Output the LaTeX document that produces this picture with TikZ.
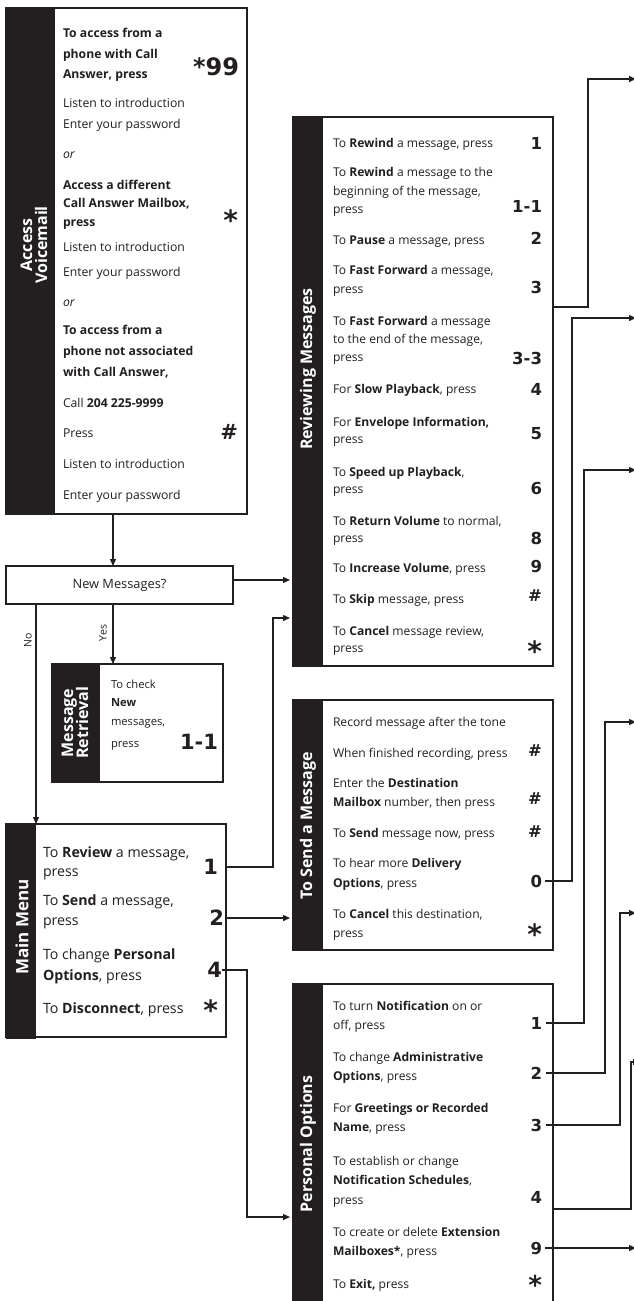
\documentclass[tikz,border=0pt]{standalone}
\usepackage{fontspec}
\setmainfont{Open Sans}
\newfontfamily\keyfont{DejaVu Sans}
\usetikzlibrary{arrows.meta}
\definecolor{ink}{RGB}{35,31,32}
\begin{document}
\begin{tikzpicture}[x=1pt,y=-1pt,
  every node/.style={inner sep=0pt, outer sep=0pt, text=ink},
  frame/.style={draw=ink, line width=1.3pt, fill=white, anchor=north west},
  band/.style={fill=ink, anchor=north west},
  title/.style={text=white, font=\bfseries\fontsize{16}{17}\selectfont, rotate=90, align=center},
  ta/.style={anchor=base west, font=\fontsize{12.2}{14}\selectfont},
  tr/.style={anchor=base west, font=\fontsize{12.1}{14}\selectfont},
  tq/.style={anchor=base west, font=\fontsize{11.2}{13}\selectfont},
  tm/.style={anchor=base west, font=\fontsize{14.2}{16}\selectfont},
  keyS/.style={anchor=east, font=\keyfont\bfseries\fontsize{16.5}{18}\selectfont},
  keyM/.style={anchor=east, font=\keyfont\bfseries\fontsize{21}{22}\selectfont},
  keyAst/.style={anchor=east, yshift=-4pt, font=\keyfont\bfseries\fontsize{28}{28}\selectfont},
  conn/.style={draw=ink, line width=1.3pt},
  arr/.style={conn, -{Triangle[length=7pt,width=6pt]}},
  lab/.style={rotate=90, font=\fontsize{10.5}{12}\selectfont}
]
\fill[white] (0,0) rectangle (633,1301);
\useasboundingbox (0,0) rectangle (633,1301);

% ---------------- Access Voicemail ----------------
\node[frame, minimum width=241pt, minimum height=506pt] (accv) at (6,8) {};
\node[band, minimum width=49pt, minimum height=506pt] (accvb) at (6,8) {};
\node[title] (accvt) at (34,245) {Access\\[-2pt]Voicemail};
\node[ta] (a1) at (63,37) {\textbf{To access from a}};
\node[ta] (a2) at (63,58) {\textbf{phone with Call}};
\node[ta] (a3) at (63,78) {\textbf{Answer, press}};
\node[anchor=east, font=\keyfont\bfseries\fontsize{24}{26}\selectfont] (ak1) at (239,67) {*99};
\node[ta] (a4) at (63,107) {Listen to introduction};
\node[ta] (a5) at (63,128) {Enter your password};
\node[ta] (a6) at (63,158) {\itshape or};
\node[ta] (a7) at (63,189) {\textbf{Access a different}};
\node[ta] (a8) at (63,207) {\textbf{Call Answer Mailbox,}};
\node[ta] (a9) at (63,226) {\textbf{press}};
\node[keyAst] (ak2) at (238,216) {*};
\node[ta] (a10) at (63,251) {Listen to introduction};
\node[ta] (a11) at (63,276) {Enter your password};
\node[ta] (a12) at (63,306) {\itshape or};
\node[ta] (a13) at (63,334) {\textbf{To access from a}};
\node[ta] (a14) at (63,355) {\textbf{phone not associated}};
\node[ta] (a15) at (63,376) {\textbf{with Call Answer,}};
\node[ta] (a16) at (63,407) {Call \textbf{204 225-9999}};
\node[ta] (a17) at (63,437) {Press};
\node[keyM] (ak3) at (238,432) {\#};
\node[ta] (a18) at (63,468) {Listen to introduction};
\node[ta] (a19) at (63,499) {Enter your password};

% ---------------- New Messages ----------------
\node[frame, minimum width=227pt, minimum height=38pt, font=\fontsize{12.8}{15}\selectfont] (newm) at (6,566) {New Messages?};

% ---------------- Message Retrieval ----------------
\node[frame, minimum width=171pt, minimum height=118pt] (retr) at (52,664) {};
\node[band, minimum width=48pt, minimum height=118pt] (retrb) at (52,664) {};
\node[title] (retrt) at (75,723) {Message\\[-2pt]Retrieval};
\node[tq] (q1) at (111,688) {To check};
\node[tq] (q2) at (111,706) {\textbf{New}};
\node[tq] (q3) at (111,725) {messages,};
\node[tq] (q4) at (111,747) {press};
\node[keyM] (qk1) at (218,742) {1-1};

% ---------------- Main Menu ----------------
\node[frame, minimum width=220pt, minimum height=213pt] (mainm) at (6,824) {};
\node[band, minimum width=30pt, minimum height=215pt] (mainb) at (6,824) {};
\node[title, font=\bfseries\fontsize{17}{18}\selectfont] (maint) at (22,927) {Main Menu};
\node[tm] (m1) at (43,857) {To \textbf{Review} a message,};
\node[tm] (m2) at (43,876) {press};
\node[keyM] (mk1) at (218,867) {1};
\node[tm] (m3) at (43,905) {To \textbf{Send} a message,};
\node[tm] (m4) at (43,925) {press};
\node[keyM] (mk2) at (224,918) {2};
\node[tm] (m5) at (43,959) {To change \textbf{Personal}};
\node[tm] (m6) at (43,980) {\textbf{Options}, press};
\node[keyM] (mk4) at (222,970) {4};
\node[tm] (m7) at (43,1013) {To \textbf{Disconnect}, press};
\node[keyAst] (mk5) at (218,1006) {*};

% ---------------- Reviewing Messages ----------------
\node[frame, minimum width=260pt, minimum height=549pt] (rev) at (293,117) {};
\node[band, minimum width=30pt, minimum height=549pt] (revb) at (293,117) {};
\node[title] (revt) at (308,369) {Reviewing Messages};
\node[tr] (r1) at (333,147) {To \textbf{Rewind} a message, press};
\node[keyS] (rk1) at (542,143) {1};
\node[tr] (r2) at (333,176) {To \textbf{Rewind} a message to the};
\node[tr] (r3) at (333,195) {beginning of the message,};
\node[tr] (r4) at (333,213) {press};
\node[keyS] (rk2) at (542,206) {1-1};
\node[tr] (r5) at (333,244) {To \textbf{Pause} a message, press};
\node[keyS] (rk3) at (542,238) {2};
\node[tr] (r6) at (333,274) {To \textbf{Fast Forward} a message,};
\node[tr] (r7) at (333,293) {press};
\node[keyS] (rk4) at (542,287) {3};
\node[tr] (r8) at (333,325) {To \textbf{Fast Forward} a message};
\node[tr] (r9) at (333,343) {to the end of the message,};
\node[tr] (r10) at (333,361) {press};
\node[keyS] (rk5) at (542,358) {3-3};
\node[tr] (r11) at (333,393) {For \textbf{Slow Playback}, press};
\node[keyS] (rk6) at (542,389) {4};
\node[tr] (r12) at (333,426) {For \textbf{Envelope Information,}};
\node[tr] (r13) at (333,443) {press};
\node[keyS] (rk7) at (542,434) {5};
\node[tr] (r14) at (333,476) {To \textbf{Speed up Playback},};
\node[tr] (r15) at (333,493) {press};
\node[keyS] (rk8) at (542,488) {6};
\node[tr] (r16) at (333,525) {To \textbf{Return Volume} to normal,};
\node[tr] (r17) at (333,542) {press};
\node[keyS] (rk9) at (542,538) {8};
\node[tr] (r18) at (333,572) {To \textbf{Increase Volume}, press};
\node[keyS] (rk10) at (542,566) {9};
\node[tr] (r19) at (333,603) {To \textbf{Skip} message, press};
\node[keyS] (rk11) at (542,596) {\#};
\node[tr] (r20) at (333,635) {To \textbf{Cancel} message review,};
\node[tr] (r21) at (333,652) {press};
\node[keyAst] (rk12) at (542,647) {*};

% ---------------- To Send a Message ----------------
\node[frame, minimum width=260pt, minimum height=250pt] (snd) at (293,700) {};
\node[band, minimum width=30pt, minimum height=250pt] (sndb) at (293,700) {};
\node[title] (sndt) at (308,826) {To Send a Message};
\node[tr] (s1) at (333,726) {Record message after the tone};
\node[tr] (s2) at (333,757) {When finished recording, press};
\node[keyS] (sk1) at (542,751) {\#};
\node[tr] (s3) at (333,787) {Enter the \textbf{Destination}};
\node[tr] (s4) at (333,806) {\textbf{Mailbox} number, then press};
\node[keyS] (sk2) at (542,799) {\#};
\node[tr] (s5) at (333,837) {To \textbf{Send} message now, press};
\node[keyS] (sk3) at (542,832) {\#};
\node[tr] (s6) at (333,867) {To hear more \textbf{Delivery}};
\node[tr] (s7) at (333,887) {\textbf{Options}, press};
\node[keyS] (sk4) at (542,881) {0};
\node[tr] (s8) at (333,918) {To \textbf{Cancel} this destination,};
\node[tr] (s9) at (333,937) {press};
\node[keyAst] (sk5) at (542,930) {*};

% ---------------- Personal Options ----------------
\node[frame, minimum width=260pt, minimum height=340pt] (pers) at (293,984) {};
\node[band, minimum width=30pt, minimum height=340pt] (persb) at (293,984) {};
\node[title] (perst) at (308,1144) {Personal Options};
\node[tr] (p1) at (333,1010) {To turn \textbf{Notification} on or};
\node[tr] (p2) at (333,1029) {off, press};
\node[keyS] (pk1) at (542,1023) {1};
\node[tr] (p3) at (333,1061) {To change \textbf{Administrative}};
\node[tr] (p4) at (333,1080) {\textbf{Options}, press};
\node[keyS] (pk2) at (542,1073) {2};
\node[tr] (p5) at (333,1112) {For \textbf{Greetings or Recorded}};
\node[tr] (p6) at (333,1131) {\textbf{Name}, press};
\node[keyS] (pk3) at (542,1125) {3};
\node[tr] (p7) at (333,1165) {To establish or change};
\node[tr] (p8) at (333,1184) {\textbf{Notification Schedules},};
\node[tr] (p9) at (333,1204) {press};
\node[keyS] (pk4) at (542,1197) {4};
\node[tr] (p10) at (333,1236) {To create or delete \textbf{Extension}};
\node[tr] (p11) at (333,1255) {\textbf{Mailboxes*}, press};
\node[keyS] (pk5) at (542,1248) {9};
\node[tr] (p12) at (333,1288) {To \textbf{Exit,} press};
\node[keyAst, font=\keyfont\bfseries\fontsize{26}{26}\selectfont] (pk6) at (542,1281) {*};

% ---------------- connector points ----------------
\coordinate (jA) at (113,514);
\coordinate (nmOut) at (233,580);
\coordinate (noTop) at (36,604);
\coordinate (yesTop) at (113,604);
\coordinate (jR) at (273,618);
\coordinate (jP) at (247,1217);
\coordinate (b1) at (588,307);
\coordinate (o1) at (636,79);
\coordinate (v2) at (572,318);
\coordinate (o2) at (636,318);
\coordinate (v3) at (584,470);
\coordinate (o3) at (636,470);
\coordinate (v4) at (605,722);
\coordinate (o4) at (636,722);
\coordinate (v5) at (620,913);
\coordinate (o5) at (636,913);
\coordinate (p4s) at (553,1209);
\coordinate (v6) at (631,1062);
\coordinate (o6) at (640,1062);
\coordinate (o7) at (636,1250);

% ---------------- connectors ----------------
\draw[arr] (jA) -- (jA |- newm.north);
\draw[arr, shorten >=3pt] (nmOut) -- (nmOut -| rev.west);
\draw[arr] (noTop) -- (noTop |- mainm.north);
\node[lab] (nolab) at (28,640) {No};
\draw[arr] (yesTop) -- (yesTop |- retr.north);
\node[lab] (yeslab) at (103,633) {Yes};

\draw[arr, shorten >=3pt] (mk1.east -| mainm.east) -| (jR) -- (jR -| rev.west);
\draw[arr, shorten >=3pt] (mk2.east -| mainm.east) -- (mk2.east -| snd.west);
\draw[arr, shorten >=3pt] (mk4.east) -| (jP) -- (jP -| pers.west);

\draw[arr] (b1 -| rev.east) -- (b1) |- (o1);
\draw[arr, shorten <=3pt] (sk4.east) -- (sk4.east -| v2) -- (v2) -- (o2);
\draw[arr, shorten <=4pt] (pk1.east) -- (pk1.east -| v3) -- (v3) -- (o3);
\draw[arr, shorten <=4pt] (pk2.east) -- (pk2.east -| v4) -- (v4) -- (o4);
\draw[arr, shorten <=4pt] (pk3.east) -- (pk3.east -| v5) -- (v5) -- (o5);
\draw[arr] (p4s) -| (v6) -- (o6);
\draw[arr, shorten <=3pt] (pk5.east) -- (pk5.east -| o7);
\end{tikzpicture}
\end{document}
